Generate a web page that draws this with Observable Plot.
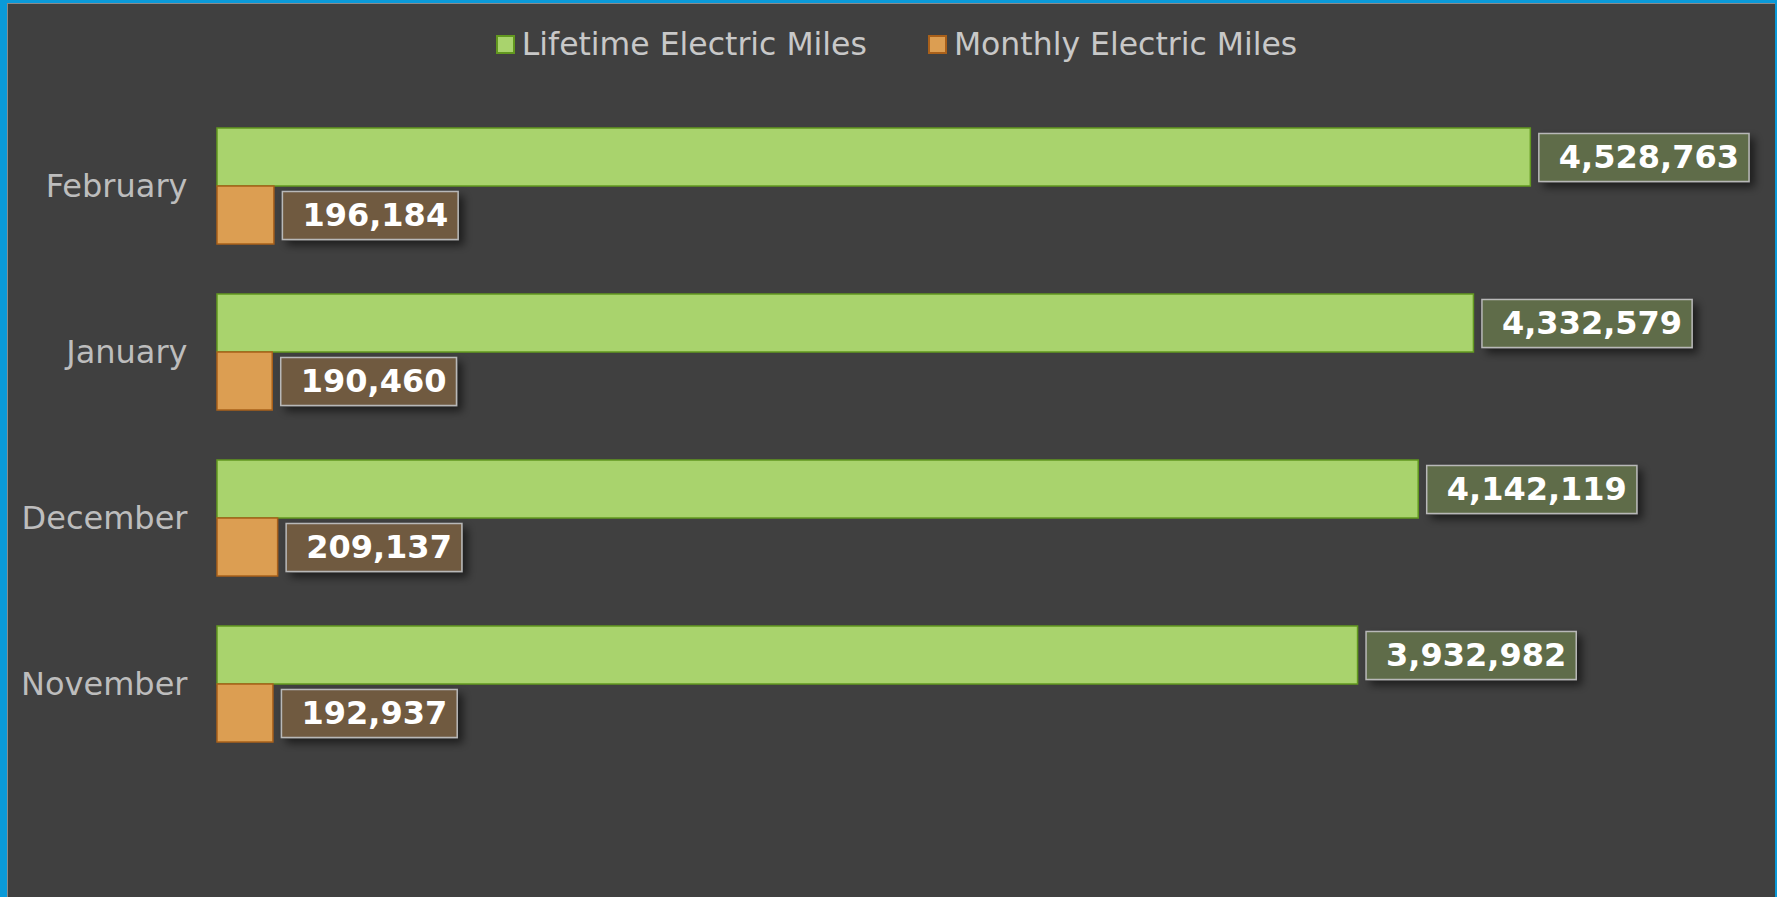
<!DOCTYPE html>
<html><head><meta charset="utf-8">
<script src="https://cdn.jsdelivr.net/npm/d3@7"></script>
<script src="https://cdn.jsdelivr.net/npm/@observablehq/plot@0.6"></script>
<style>
html,body{margin:0;padding:0;background:#0a9ad9;width:1777px;height:897px;overflow:hidden}
#frame{position:absolute;left:7px;top:3px;width:1767px;height:894px;background:#404040;border-left:1px solid #8a8a8a;border-top:1px solid #8a8a8a;}
#legend{height:80px;display:flex;justify-content:center;align-items:center;gap:61px;font-family:"DejaVu Sans";font-size:31.5px;color:#c8c8c8;padding-left:10px;box-sizing:border-box}
.item{display:flex;align-items:center;gap:7px}
.sw{width:15px;height:15px;border:2px solid}
svg{display:block}
</style></head>
<body>
<div id="frame">
  <div id="legend"></div>
  <div id="chart"></div>
</div>
<script>
const months = ["February", "January", "December", "November"];
const seriesNames = ["Lifetime Electric Miles", "Monthly Electric Miles"];
const lifetime = [4528763, 4332579, 4142119, 3932982];
const monthly = [196184, 190460, 209137, 192937];
const fills = ["#a9d36d", "#dc9e52"];
const strokes = ["#62981f", "#a9601a"];
const boxFills = ["#5f6c48", "#6f5a40"];

const rows = [];
months.forEach((m, i) => {
  rows.push({month: m, series: seriesNames[0], value: lifetime[i], k: 0});
  rows.push({month: m, series: seriesNames[1], value: monthly[i], k: 1});
});

// legend
const lg = document.getElementById("legend");
seriesNames.forEach((s, i) => {
  const it = document.createElement("div"); it.className = "item";
  const sw = document.createElement("div"); sw.className = "sw";
  sw.style.background = fills[i]; sw.style.borderColor = strokes[i];
  const t = document.createElement("span"); t.textContent = s;
  it.appendChild(sw); it.appendChild(t); lg.appendChild(it);
});

const fmt = d3.format(",");
const chart = Plot.plot({
  width: 1766, height: 813,
  marginTop: 18, marginBottom: 129, marginLeft: 209, marginRight: 107,
  style: {background: "transparent", fontFamily: "DejaVu Sans", overflow: "visible"},
  x: {domain: [0, 5000000], axis: null},
  fy: {domain: months, padding: 0, label: null},
  y: {domain: seriesNames, paddingInner: 0, paddingOuter: 0.41, axis: null},
  marks: [
    Plot.axisFy({anchor: "left", tickSize: 0, tickPadding: 30, fontSize: 32, fill: "#bdbdbd", label: null}),
    Plot.barX(rows.filter(d => d.k === 0), {x: "value", y: "series", fy: "month", fill: fills[0], stroke: strokes[0], strokeWidth: 1.5}),
    Plot.barX(rows.filter(d => d.k === 1), {x: "value", y: "series", fy: "month", fill: fills[1], stroke: strokes[1], strokeWidth: 1.5}),
    Plot.text(rows.filter(d => d.k === 0), {x: "value", y: "series", fy: "month", text: d => fmt(d.value), dx: 28, textAnchor: "start", fill: "white", fontWeight: "bold", fontSize: 32, className: "vlab0"}),
    Plot.text(rows.filter(d => d.k === 1), {x: "value", y: "series", fy: "month", text: d => fmt(d.value), dx: 28, textAnchor: "start", fill: "white", fontWeight: "bold", fontSize: 32, className: "vlab1"})
  ]
});
document.getElementById("chart").appendChild(chart);

// shadow filter
const ns = "http://www.w3.org/2000/svg";
const defs = document.createElementNS(ns, "defs");
defs.innerHTML = '<filter id="sh" x="-20%" y="-40%" width="150%" height="200%"><feDropShadow dx="5" dy="5" stdDeviation="4" flood-color="#000" flood-opacity="0.55"/></filter>';
chart.insertBefore(defs, chart.firstChild);

[0, 1].forEach(k => {
  chart.querySelectorAll("g.vlab" + k + " text").forEach(t => {
    const bb = t.getBBox();
    const r = document.createElementNS(ns, "rect");
    const tr = t.getAttribute("transform");
    if (tr) r.setAttribute("transform", tr);
    r.setAttribute("x", bb.x - 20);
    r.setAttribute("width", bb.width + 30);
    r.setAttribute("y", -24);
    r.setAttribute("height", 48);
    r.setAttribute("fill", boxFills[k]);
    r.setAttribute("stroke", "#b8b8b8");
    r.setAttribute("stroke-width", 1.5);
    r.setAttribute("filter", "url(#sh)");
    t.parentNode.insertBefore(r, t);
  });
});
</script>
</body></html>
